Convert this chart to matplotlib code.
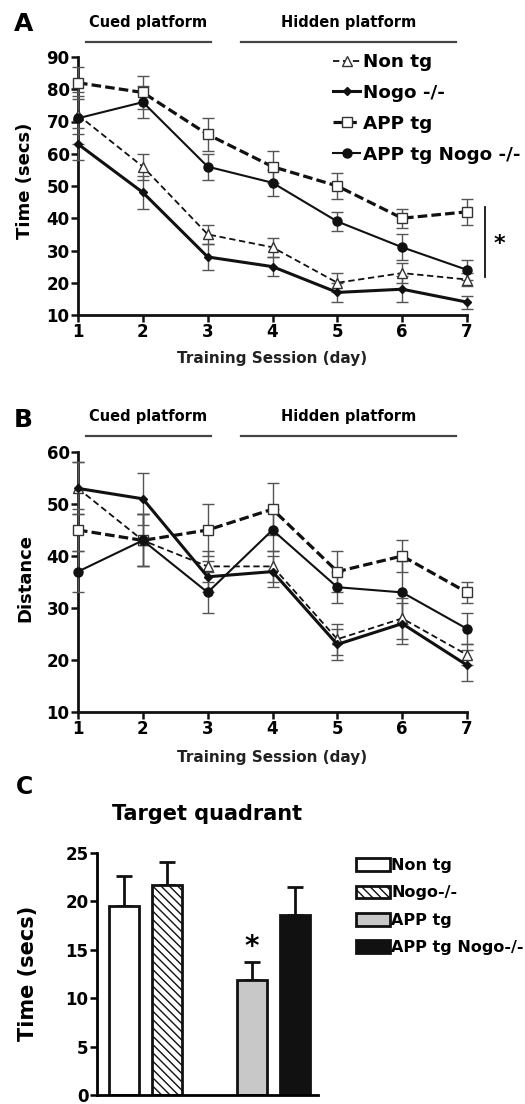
import matplotlib
matplotlib.use("Agg")
import matplotlib.pyplot as plt
from matplotlib.lines import Line2D
import numpy as np

plt.rcParams['font.family'] = ['DejaVu Sans']
plt.rcParams['font.weight'] = 'bold'
plt.rcParams['axes.labelweight'] = 'bold'
plt.rcParams['axes.titleweight'] = 'bold'
plt.rcParams['hatch.color'] = '#333333'
plt.rcParams['hatch.linewidth'] = 1.0

# ---- data ----
days = [1, 2, 3, 4, 5, 6, 7]
groups = ["Non tg", "Nogo -/-", "APP tg", "APP tg Nogo -/-"]

# panel A, escape latency (secs)
a_nontg = [72, 56, 35, 31, 20, 23, 21]
a_nontg_err = [6, 4, 3, 3, 3, 3, 2]
a_nogo = [63, 48, 28, 25, 17, 18, 14]
a_nogo_err = [5, 5, 4, 3, 3, 4, 2]
a_app = [82, 79, 66, 56, 50, 40, 42]
a_app_err = [5, 5, 5, 5, 4, 3, 4]
a_appnogo = [71, 76, 56, 51, 39, 31, 24]
a_appnogo_err = [8, 5, 4, 4, 3, 4, 3]

# panel B, path distance
b_nontg = [53, 43, 38, 38, 24, 28, 21]
b_nontg_err = [5, 5, 3, 3, 3, 4, 2]
b_nogo = [53, 51, 36, 37, 23, 27, 19]
b_nogo_err = [5, 5, 3, 3, 3, 4, 3]
b_app = [45, 43, 45, 49, 37, 40, 33]
b_app_err = [4, 5, 5, 5, 4, 3, 2]
b_appnogo = [37, 43, 33, 45, 34, 33, 26]
b_appnogo_err = [4, 5, 4, 4, 3, 6, 3]

# panel C, target quadrant time
c_labels = ["Non tg", "Nogo-/-", "APP tg", "APP tg Nogo-/-"]
c_pos = [0, 1, 3, 4]
c_mean = [19.5, 21.7, 11.9, 18.6]
c_err = [3.1, 2.4, 1.8, 2.9]

# phase spans (training day units)
cued_span = (1.12, 3.05)
hidden_span = (3.52, 6.83)

INK = '#111111'
ERR = '#555555'

styles = [
    dict(ls=(0, (3.5, 2)), lw=1.3, marker='^', ms=6.5, mfc='white', mec='#333333', mew=1.0),
    dict(ls='-', lw=2.2, marker='D', ms=4, mfc=INK, mec=INK, mew=1.0),
    dict(ls=(0, (3, 1.3)), lw=2.3, marker='s', ms=7, mfc='white', mec='#333333', mew=1.0),
    dict(ls='-', lw=1.5, marker='o', ms=6.5, mfc=INK, mec=INK, mew=1.0),
]

W, H = 525, 1104
fig = plt.figure(figsize=(W / 100, H / 100), dpi=100)


def px_axes(left, top, right, bottom):
    return fig.add_axes([left / W, 1 - bottom / H, (right - left) / W, (bottom - top) / H])


def line_panel(ax, series, errs, ymax, ylabel):
    for y, e, st in zip(series, errs, styles):
        ax.errorbar(days, y, yerr=e, color=INK, ecolor=ERR, elinewidth=1.0,
                    capsize=4, capthick=1.0, clip_on=False, zorder=3, **st)
    ax.set_xlim(1, 7)
    ax.set_ylim(10, ymax)
    ax.set_xticks(days)
    ax.set_yticks(np.arange(10, ymax + 1, 10))
    for s in ['top', 'right']:
        ax.spines[s].set_visible(False)
    for s in ['left', 'bottom']:
        ax.spines[s].set_linewidth(2)
        ax.spines[s].set_color(INK)
    ax.tick_params(width=1.8, length=5, labelsize=12, pad=1, color=INK)
    ax.set_xlabel("Training Session (day)", fontsize=11, color='#222222')
    ax.xaxis.set_label_coords(0.5, -0.14)
    ax.set_ylabel(ylabel, fontsize=13)
    ax.yaxis.set_label_coords(-0.113, 0.52)
    # phase bars
    tr = ax.get_xaxis_transform()
    for span, name in [(cued_span, "Cued platform"), (hidden_span, "Hidden platform")]:
        ax.plot(span, [1.06, 1.06], transform=tr, color='#444444', lw=1.6, clip_on=False)
        ax.text(np.mean(span), 1.135, name, transform=tr, ha='center', va='center',
                fontsize=10.5)


# ---- panel A ----
axA = px_axes(78, 57, 467, 315)
line_panel(axA, [a_nontg, a_nogo, a_app, a_appnogo],
           [a_nontg_err, a_nogo_err, a_app_err, a_appnogo_err], 90, "Time (secs)")
fig.text(14 / W, 1 - 24 / H, "A", fontsize=18, va='center', ha='left')
axA.plot([7.28, 7.28], [21.8, 43.5], color=INK, lw=1.3, clip_on=False)
axA.text(7.5, 32, "*", fontsize=16, ha='center', va='center')

handles = [Line2D([], [], color=INK, **st) for st in styles]
fig.legend(handles, groups, loc='upper left', bbox_to_anchor=(333 / W, 1 - 53 / H),
           frameon=False, fontsize=13.2, handlelength=1.5, handletextpad=0.15,
           labelspacing=0.7, borderpad=0, borderaxespad=0)

# ---- panel B ----
axB = px_axes(78, 452, 467, 712)
line_panel(axB, [b_nontg, b_nogo, b_app, b_appnogo],
           [b_nontg_err, b_nogo_err, b_app_err, b_appnogo_err], 60, "Distance")
axB.yaxis.set_label_coords(-0.113, 0.515)
axB.xaxis.set_label_coords(0.5, -0.146)
fig.text(14 / W, 1 - 420 / H, "B", fontsize=18, va='center', ha='left')

# ---- panel C ----
axC = px_axes(97, 853, 318, 1095)
fills = ['white', 'white', '#c8c8c8', INK]
hatches = [None, '\\\\\\\\', None, None]
for p, m, e, fc, h, lab in zip(c_pos, c_mean, c_err, fills, hatches, c_labels):
    axC.bar(p, m, width=0.7, color=fc, edgecolor=INK, linewidth=2, hatch=h,
            label=lab, zorder=2)
    axC.errorbar(p, m, yerr=[[0], [e]], color=INK, lw=2, capsize=6, capthick=2, zorder=1)
axC.set_xlim(-0.63, 4.54)
axC.set_ylim(0, 25)
axC.set_xticks([])
axC.set_yticks(np.arange(0, 26, 5))
for s in ['top', 'right']:
    axC.spines[s].set_visible(False)
for s in ['left', 'bottom']:
    axC.spines[s].set_linewidth(2)
axC.tick_params(width=1.8, length=5, labelsize=12, pad=1)
axC.set_ylabel("Time (secs)", fontsize=15)
axC.yaxis.set_label_coords(-0.267, 0.504)
axC.text(c_pos[2], 15.3, "*", fontsize=20, ha='center', va='center')
axC.set_title("Target quadrant", fontsize=15, pad=24)
fig.text(16 / W, 1 - 787 / H, "C", fontsize=17, va='center', ha='left')
fig.legend(*axC.get_legend_handles_labels(), loc='upper left',
           bbox_to_anchor=(356 / W, 1 - 858 / H), frameon=False, fontsize=11.5,
           handlelength=2.1, handleheight=0.85, handletextpad=0.1,
           labelspacing=0.78, borderpad=0, borderaxespad=0)

fig.savefig("out.png", dpi=100)
